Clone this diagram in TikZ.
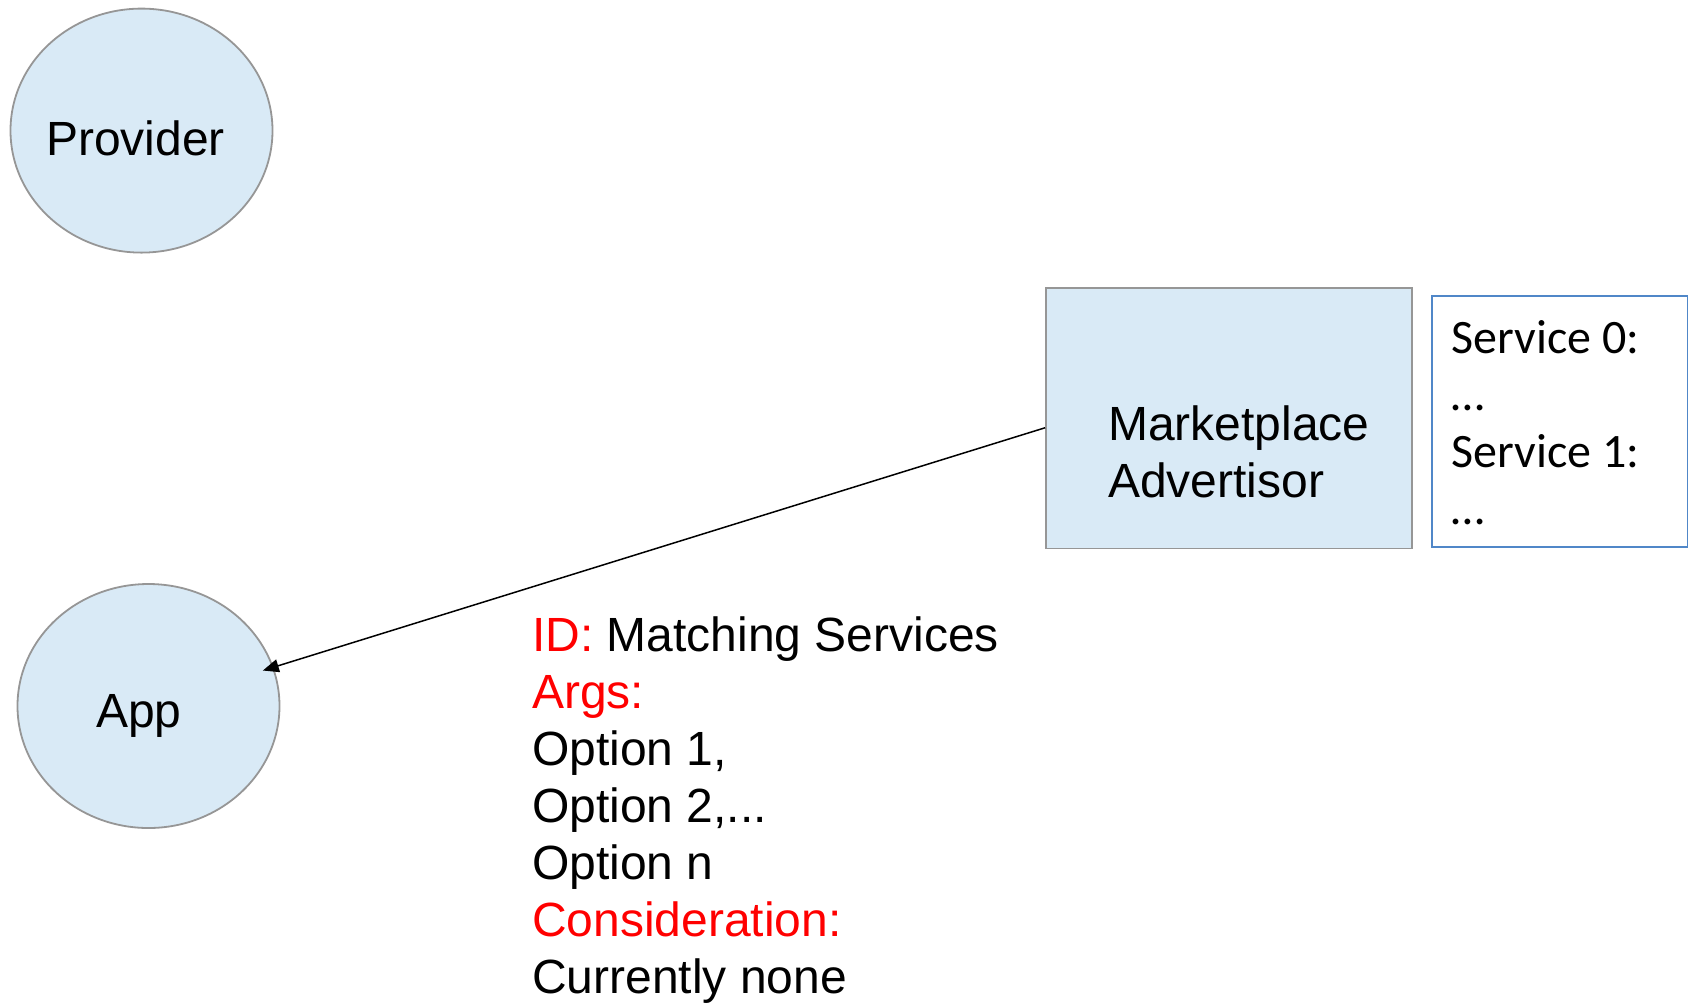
\documentclass[tikz,border=0pt]{standalone}
\usepackage{fontspec}
\setmainfont{Liberation Sans}
\newfontfamily\listfont{Carlito}
\usetikzlibrary{shapes.geometric,arrows.meta}
\definecolor{bubblefill}{RGB}{217,234,246}
\definecolor{edgegray}{RGB}{150,150,150}
\definecolor{listblue}{RGB}{80,135,200}
\definecolor{keyred}{RGB}{255,0,0}
\tikzset{
  bubble/.style={ellipse, draw=edgegray, line width=1.8pt, fill=bubblefill,
    minimum width=262pt, minimum height=244pt, inner sep=0pt},
  agentbox/.style={rectangle, draw=edgegray, line width=1.8pt, fill=bubblefill,
    inner sep=0pt},
  listbox/.style={rectangle, draw=listblue, line width=1.8pt, fill=white,
    inner sep=0pt},
  % multi-line texts are placed by the baseline of their last line
  txt/.style={font=\fontsize{48}{57}\selectfont, anchor=base west,
    inner sep=0pt, align=left},
  listtxt/.style={font=\listfont\fontsize{48}{57}\selectfont, anchor=base west,
    inner sep=0pt, align=left},
  msg/.style={line width=1.5pt, -{Triangle[length=16pt,width=13pt]}},
}
\begin{document}
\begin{tikzpicture}[x=1pt,y=-1pt]
\useasboundingbox (0,0) rectangle (1693,1005);

% participants
\node[bubble] (prov) at (141.5,130.6) {};
\node[txt] (provlbl) at (46,155) {Provider};

\node[bubble] (app) at (148.5,706) {};
\node[txt] (applbl) at (96,727) {App};

\node[agentbox, minimum width=366pt, minimum height=260.5pt] (mkt) at (1229,418.25) {};
\node[txt] (mktlbl) at (1108,497.7) {Marketplace\\Advertisor};

% advertised services
\node[listbox, minimum width=255.5pt, minimum height=251pt] (svc) at (1559.75,421.5) {};
\node[listtxt] (svclbl) at (1451,524) {Service 0:\\…\\Service 1:\\…};

% message sent to the app
\draw[msg, shorten >=-11.3pt] ([yshift=-9.5pt]mkt.west) -- (app);

\node[txt] (msglbl) at (532,993) {\textcolor{keyred}{ID:} Matching Services\\
  \textcolor{keyred}{Args:}\\
  Option 1,\\
  Option 2,...\\
  Option n\\
  \textcolor{keyred}{Consideration:}\\
  Currently none};
\end{tikzpicture}
\end{document}
